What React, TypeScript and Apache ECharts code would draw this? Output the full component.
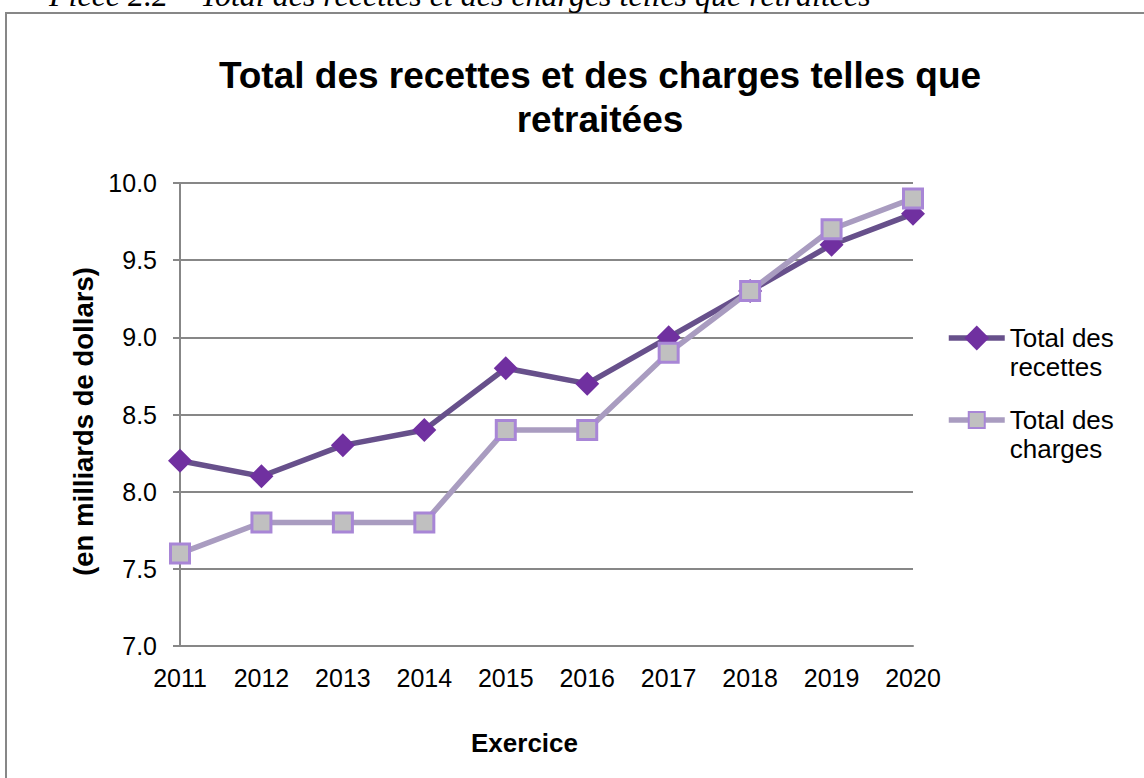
import React, { useEffect, useRef } from "react";
import * as echarts from "echarts";

const years = ["2011", "2012", "2013", "2014", "2015", "2016", "2017", "2018", "2019", "2020"];
const recettes = [8.2, 8.1, 8.3, 8.4, 8.8, 8.7, 9.0, 9.3, 9.6, 9.8];
const charges = [7.6, 7.8, 7.8, 7.8, 8.4, 8.4, 8.9, 9.3, 9.7, 9.9];
const seriesNames = ["Total des recettes", "Total des charges"];
const titleText = "Total des recettes et des charges telles que\nretraitées";
const captionText = "Pièce 2.2 – Total des recettes et des charges telles que retraitées";
const yAxisName = "(en milliards de dollars)";
const xAxisName = "Exercice";

const FONT = "'Liberation Sans', Arial, sans-serif";
const GRAY = "#878787";

export default function App() {
  const ref = useRef<HTMLDivElement>(null);

  useEffect(() => {
    if (!ref.current) return;
    const chart = echarts.init(ref.current, null, { renderer: "svg" });
    const legendFormatter = (name: string) => "\n" + name.replace(/ (\S+)$/, "\n$1");
    chart.setOption({
      animation: false,
      backgroundColor: "#ffffff",
      textStyle: { fontFamily: FONT },
      title: {
        text: titleText,
        left: 600,
        textAlign: "center",
        top: 53,
        padding: 0,
        textStyle: { fontFamily: FONT, fontSize: 37, fontWeight: "bold", color: "#000", lineHeight: 44 },
      },
      graphic: [
        {
          type: "rect",
          shape: { x: 6, y: 13, width: 1300, height: 1000 },
          style: { fill: "none", stroke: GRAY, lineWidth: 2 },
          silent: true,
        },
        {
          type: "text",
          x: 49,
          y: -5,
          style: {
            text: captionText,
            fontFamily: "'Liberation Serif', 'Times New Roman', serif",
            fontStyle: "italic",
            fontSize: 32,
            fill: "#000",
            verticalAlign: "middle",
            align: "left",
          },
          silent: true,
        },
      ],
      legend: [
        {
          data: [seriesNames[0]],
          orient: "vertical",
          left: 946,
          top: 294.5,
          padding: 0,
          itemWidth: 56,
          itemHeight: 31,
          selectedMode: false,
          formatter: legendFormatter,
          lineStyle: { width: 5.5 },
          textStyle: { fontFamily: FONT, fontSize: 26, color: "#000", lineHeight: 29 },
        },
        {
          data: [seriesNames[1]],
          orient: "vertical",
          left: 946,
          top: 376.5,
          padding: 0,
          itemWidth: 56,
          itemHeight: 20,
          selectedMode: false,
          formatter: legendFormatter,
          lineStyle: { width: 5.5 },
          textStyle: { fontFamily: FONT, fontSize: 26, color: "#000", lineHeight: 29 },
        },
      ],
      grid: { left: 180, right: 231, top: 183, bottom: 132, containLabel: false },
      xAxis: {
        type: "category",
        data: years,
        boundaryGap: false,
        name: xAxisName,
        nameLocation: "middle",
        nameGap: 84,
        nameTextStyle: { fontFamily: FONT, fontSize: 26, fontWeight: "bold", color: "#000", padding: [0, 44, 0, 0] },
        axisLine: { show: true, lineStyle: { color: GRAY, width: 2 } },
        axisTick: { show: false },
        axisLabel: { fontFamily: FONT, fontSize: 25, color: "#000", margin: 19 },
        splitLine: { show: false },
      },
      yAxis: {
        type: "value",
        min: 7,
        max: 10,
        interval: 0.5,
        name: yAxisName,
        nameLocation: "middle",
        nameGap: 80,
        nameTextStyle: { fontFamily: FONT, fontSize: 27.5, fontWeight: "bold", color: "#000", padding: [0, 14, 0, 0] },
        axisLine: { show: true, lineStyle: { color: GRAY, width: 2 } },
        axisTick: { show: true, length: 7, lineStyle: { color: GRAY, width: 2 } },
        axisLabel: {
          fontFamily: FONT,
          fontSize: 25,
          color: "#000",
          margin: 23,
          formatter: (v: number) => v.toFixed(1),
        },
        splitLine: { show: true, lineStyle: { color: GRAY, width: 2 } },
      },
      series: [
        {
          name: seriesNames[0],
          type: "line",
          data: recettes,
          symbol: "diamond",
          symbolSize: 24,
          lineStyle: { color: "#67508b", width: 5.5 },
          itemStyle: { color: "#7030a0", borderWidth: 0 },
          z: 2,
        },
        {
          name: seriesNames[1],
          type: "line",
          data: charges,
          symbol: "rect",
          symbolSize: 19,
          lineStyle: { color: "#a99cc0", width: 5.5 },
          itemStyle: { color: "#c0c0c0", borderColor: "#a886d6", borderWidth: 3 },
          z: 3,
        },
      ],
    });
    return () => chart.dispose();
  }, []);

  return (
    <div
      ref={ref}
      style={{ position: "absolute", left: 0, top: 0, width: 1144, height: 778 }}
    />
  );
}
